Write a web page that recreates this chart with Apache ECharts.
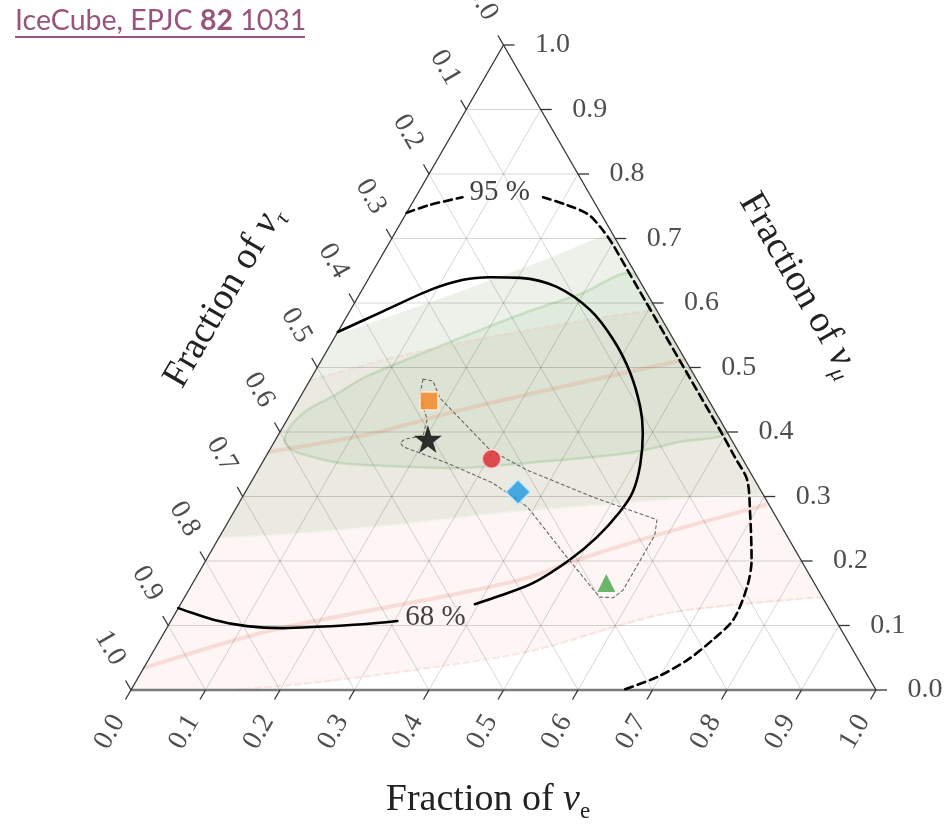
<!DOCTYPE html>
<html>
<head>
<meta charset="utf-8">
<script src="https://cdn.jsdelivr.net/npm/echarts@6/dist/echarts.min.js"></script>
<style>
html,body{margin:0;padding:0;background:#fff;}
#chart{width:951px;height:824px;}
</style>
</head>
<body>
<div id="chart"></div>
<script>
// ---- data: every point is [fraction of nu_e, fraction of nu_mu]; nu_tau = 1 - e - mu ----
const tickValues = [0, 0.1, 0.2, 0.3, 0.4, 0.5, 0.6, 0.7, 0.8, 0.9, 1.0];
const tickLabels = ['0.0','0.1','0.2','0.3','0.4','0.5','0.6','0.7','0.8','0.9','1.0'];
const gridValues = [0.1, 0.2, 0.3, 0.4, 0.5, 0.6, 0.7, 0.8, 0.9];

const contour68Upper = [[0.0,0.555],[0.042,0.585],[0.091,0.620],[0.128,0.636],[0.162,0.640],[0.203,0.639],[0.259,0.625],[0.322,0.589],[0.376,0.543],[0.424,0.492],[0.464,0.439],[0.488,0.398],[0.509,0.349],[0.520,0.307],[0.518,0.276],[0.507,0.237],[0.488,0.202],[0.457,0.166],[0.422,0.146],[0.395,0.133]];
const contour68Lower = [[0.304,0.107],[0.260,0.102],[0.201,0.098],[0.156,0.096],[0.106,0.099],[0.056,0.109],[0.0,0.127]];
const contour95Left = [[0.0,0.740],[0.025,0.752],[0.063,0.764]];
const contour95Right = [[0.171,0.764],[0.209,0.752],[0.244,0.738],[0.272,0.717],[0.300,0.692],[0.341,0.651],[0.392,0.600],[0.442,0.550],[0.492,0.500],[0.542,0.450],[0.592,0.400],[0.631,0.360],[0.664,0.326],[0.694,0.274],[0.732,0.202],[0.747,0.160],[0.754,0.109],[0.742,0.078],[0.724,0.047],[0.696,0.020],[0.660,0.0]];
const label68Pos = [0.352, 0.113];
const label95Pos = [0.109, 0.772];

const regionPink = [[0,0.48],[0.102,0.518],[0.220,0.550],[0.341,0.577],[0.41,0.59],[0.856,0.144],[0.660,0.119],[0.505,0.060],[0.347,0.028],[0.222,0.009],[0.133,0],[0,0]];
const regionGreen = [[0,0.55],[0.122,0.612],[0.2275,0.670],[0.29,0.71],[0.698,0.302],[0.614,0.299],[0.486,0.287],[0.354,0.274],[0.232,0.257],[0.105,0.243],[0,0.236]];
const regionEllipse = [[0.012,0.388],[0.010,0.412],[0.022,0.437],[0.045,0.457],[0.070,0.484],[0.138,0.527],[0.189,0.558],[0.242,0.588],[0.296,0.614],[0.356,0.643],[0.597,0.403],[0.545,0.385],[0.482,0.367],[0.356,0.352],[0.270,0.344],[0.198,0.346],[0.105,0.352],[0.043,0.367],[0.022,0.377]];
const pinkLineUpper = [[0,0.369],[0.126,0.398],[0.225,0.434],[0.380,0.481],[0.487,0.512]];
const pinkLineLower = [[0,0.034],[0.144,0.093],[0.366,0.150],[0.448,0.175],[0.490,0.198],[0.578,0.237],[0.708,0.287]];
const dottedRegion = [[0.151,0.482],[0.166,0.479],[0.188,0.453],[0.296,0.372],[0.361,0.341],[0.471,0.299],[0.574,0.264],[0.583,0.240],[0.583,0.155],[0.576,0.143],[0.557,0.144],[0.540,0.158],[0.482,0.206],[0.390,0.284],[0.325,0.321],[0.248,0.352],[0.177,0.377],[0.170,0.383],[0.173,0.389],[0.195,0.394],[0.188,0.419],[0.159,0.457],[0.151,0.482]];

const pointStar = [0.204, 0.389];
const pointSquare = [0.176, 0.448];
const pointCircle = [0.305, 0.358];
const pointDiamond = [0.366, 0.307];
const pointTriangle = [0.555, 0.166];

// ---- ternary -> cartesian helper (x along the nu_e edge, y = nu_mu height) ----
function tern(p) { return [p[0] + p[1] / 2, p[1]]; }

const W = 745, H = 645; // plot size in px (for label offsets only)
const SERIF = "'Liberation Serif', 'DejaVu Serif', serif";
const TXT = '#222';

const chart = echarts.init(document.getElementById('chart'), null, {renderer: 'canvas'});

function seg(p, q, style) {
  return {type: 'line', shape: {x1: p[0], y1: p[1], x2: q[0], y2: q[1]}, style: style};
}

function triangleClip(api) {
  return {type: 'polygon', shape: {points: [api.coord(tern([0,0])), api.coord(tern([1,0])), api.coord(tern([0,1]))]}};
}

function polySeries(arr, fill, stroke, lw, dash, z, smooth) {
  return {
    type: 'custom', coordinateSystem: 'cartesian2d', data: [[0, 0]], z: z, silent: true,
    renderItem: function (params, api) {
      return {
        type: 'group',
        clipPath: triangleClip(api),
        children: [{
          type: 'polygon',
          shape: {points: arr.map(p => api.coord(tern(p))), smooth: smooth || 0},
          style: {fill: fill, stroke: stroke || null, lineWidth: lw || 0, lineDash: dash || null}
        }]
      };
    }
  };
}

function lineSeries(arr, color, width, type, z, smooth) {
  return {
    type: 'line', data: arr.map(tern), symbol: 'none', smooth: smooth, clip: false, z: z, silent: true,
    lineStyle: {color: color, width: width, type: type || 'solid', cap: 'round'}
  };
}

// grid lines
const gridSeries = {
  type: 'custom', coordinateSystem: 'cartesian2d', data: [[0, 0]], z: 3, silent: true,
  renderItem: function (params, api) {
    const c = p => api.coord(tern(p));
    const st = {stroke: 'rgba(0,0,0,0.16)', lineWidth: 1};
    const ch = [];
    gridValues.forEach(t => {
      ch.push(seg(c([0, t]), c([1 - t, t]), st));
      ch.push(seg(c([t, 0]), c([t, 1 - t]), st));
      ch.push(seg(c([1 - t, 0]), c([0, 1 - t]), st));
    });
    return {type: 'group', children: ch};
  }
};

// triangle frame + ticks
const frameSeries = {
  type: 'custom', coordinateSystem: 'cartesian2d', data: [[0, 0]], z: 6, silent: true,
  renderItem: function (params, api) {
    const c = p => api.coord(tern(p));
    const A = c([0, 0]), B = c([1, 0]), C = c([0, 1]);
    const edge = {stroke: '#333', lineWidth: 1.3};
    const L = 11;
    const ch = [
      seg(A, B, {stroke: '#7a7a7a', lineWidth: 2.4}),
      seg(A, C, edge),
      seg(B, C, edge)
    ];
    tickValues.forEach(t => {
      const b = c([t, 0]);
      ch.push(seg(b, [b[0] - 0.5 * L, b[1] + 0.866 * L], edge));
      const r = c([1 - t, t]);
      ch.push(seg(r, [r[0] + L, r[1]], edge));
      const l = c([0, 1 - t]);
      ch.push(seg(l, [l[0] - 0.5 * L, l[1] - 0.866 * L], edge));
    });
    return {type: 'group', children: ch};
  }
};

function labelSeries(items, rotate, position, distance, align) {
  return {
    type: 'scatter', data: items, symbolSize: 1, clip: false, z: 9, silent: true,
    itemStyle: {color: 'transparent'},
    label: {
      show: true, formatter: '{b}', position: position || 'inside', distance: distance || 0,
      rotate: rotate, align: align, verticalAlign: 'middle',
      fontFamily: SERIF, fontSize: 28, color: TXT
    }
  };
}

const bottomLabels = tickValues.map((t, i) => {
  const xy = tern([t, 0]);
  return {name: tickLabels[i], value: [xy[0] - 21 / W, xy[1] - 42 / H]};
});
const leftLabels = tickValues.map((t, i) => {
  const xy = tern([0, 1 - t]);
  return {name: tickLabels[i], value: [xy[0] - 21 / W, xy[1] + 42 / H]};
});
const rightLabels = tickValues.map((t, i) => {
  const xy = tern([1 - t, t]);
  return {name: tickLabels[i], value: xy};
});

const starPath = 'path://M50,0 L61.23,34.55 L97.55,34.55 L68.16,55.9 L79.39,90.45 L50,69.1 L20.61,90.45 L31.84,55.9 L2.45,34.55 L38.77,34.55 Z';

function markerSeries(pt, symbol, size, color, border) {
  return {
    type: 'scatter', data: [tern(pt)], symbol: symbol, symbolSize: size, z: 8, silent: true, clip: false,
    itemStyle: {color: color, borderColor: border, borderWidth: border ? 2 : 0}
  };
}

function contourLabel(pos, text) {
  return {
    type: 'scatter', data: [{name: text, value: tern(pos)}], symbolSize: 1, clip: false, z: 9, silent: true,
    itemStyle: {color: 'transparent'},
    label: {show: true, formatter: '{b}', position: 'inside', fontFamily: SERIF, fontSize: 29, color: '#111'}
  };
}

const axisRich = {
  a: {fontFamily: SERIF, fontSize: 38, fill: TXT, lineHeight: 46, verticalAlign: 'middle'},
  n: {fontFamily: SERIF, fontSize: 38, fontStyle: 'italic', fill: TXT, lineHeight: 46, verticalAlign: 'middle'},
  s: {fontFamily: SERIF, fontSize: 23, fontStyle: 'italic', fill: TXT, lineHeight: 26, verticalAlign: 'bottom'},
  se: {fontFamily: SERIF, fontSize: 23, fill: TXT, lineHeight: 26, verticalAlign: 'bottom'}
};

const option = {
  animation: false,
  backgroundColor: '#ffffff',
  grid: {left: 131, right: 75, top: 45, bottom: 134, containLabel: false},
  xAxis: {type: 'value', min: 0, max: 1, show: false},
  yAxis: {type: 'value', min: 0, max: 1, show: false},
  graphic: [
    {type: 'text', x: 15, y: 21, style: {
      text: '{a|IceCube, EPJC }{b|82}{a| 1031}', verticalAlign: 'middle', align: 'left',
      rich: {
        a: {fontFamily: 'Lato, "Open Sans", sans-serif', fontSize: 28.5, fill: '#98547c'},
        b: {fontFamily: 'Lato, "Open Sans", sans-serif', fontSize: 28.5, fontWeight: 'bold', fill: '#98547c'}
      }}},
    {type: 'line', shape: {x1: 15, y1: 37, x2: 305, y2: 37}, style: {stroke: '#98547c', lineWidth: 2}},
    {type: 'text', x: 488, y: 800, style: {text: '{a|Fraction of }{n|ν}{se|e}', rich: axisRich, align: 'center', verticalAlign: 'middle'}},
    {type: 'text', x: 224, y: 297, rotation: Math.PI / 3, style: {text: '{a|Fraction of }{n|ν}{s|τ}', rich: axisRich, align: 'center', verticalAlign: 'middle'}},
    {type: 'text', x: 799, y: 285, rotation: -Math.PI / 3, style: {text: '{a|Fraction of }{n|ν}{s|μ}', rich: axisRich, align: 'center', verticalAlign: 'middle'}}
  ],
  series: [
    polySeries(regionPink, 'rgba(230,120,110,0.065)', null, 0, null, 1),
    polySeries(regionGreen, 'rgba(110,155,95,0.13)', null, 0, null, 1),
    polySeries(regionEllipse, 'rgba(100,170,90,0.09)', 'rgba(100,165,90,0.22)', 2.5, null, 1, 0.3),
    lineSeries(regionGreen.slice(4), 'rgba(240,244,236,0.9)', 2, [6, 4], 2, 0.3),
    lineSeries(regionPink.slice(5, 11), 'rgba(240,185,175,0.35)', 2, [6, 4], 2, 0.3),
    lineSeries(regionPink.slice(0, 5), 'rgba(240,185,175,0.3)', 2, [6, 4], 2, 0.3),
    lineSeries(pinkLineUpper, 'rgba(225,165,140,0.32)', 4, 'solid', 2, 0.3),
    lineSeries(pinkLineLower, 'rgba(235,160,150,0.3)', 4, 'solid', 2, 0.3),
    gridSeries,
    frameSeries,
    lineSeries(contour68Upper, '#000', 2.6, 'solid', 7, 0.3),
    lineSeries(contour68Lower, '#000', 2.6, 'solid', 7, 0.3),
    lineSeries(contour95Left, '#000', 2.6, [8, 5], 7, 0.3),
    lineSeries(contour95Right, '#000', 2.6, [8, 5], 7, 0.3),
    lineSeries(dottedRegion, '#666', 1.1, [3, 3], 7, false),
    markerSeries(pointSquare, 'rect', 18, '#f5821f', 'rgba(255,235,210,0.9)'),
    markerSeries(pointCircle, 'circle', 19, '#d9252b', 'rgba(255,225,225,0.9)'),
    markerSeries(pointDiamond, 'diamond', 25, '#1b98e0', 'rgba(215,240,255,0.9)'),
    markerSeries(pointTriangle, 'triangle', 18, '#4aa54a', null),
    markerSeries(pointStar, starPath, 28, '#000', null),
    labelSeries(bottomLabels, 60, 'inside', 0, 'center'),
    labelSeries(leftLabels, -60, 'inside', 0, 'center'),
    labelSeries(rightLabels, 0, 'right', 31, 'left'),
    contourLabel(label68Pos, '68 %'),
    contourLabel(label95Pos, '95 %')
  ]
};
chart.setOption(option);
</script>
</body>
</html>
